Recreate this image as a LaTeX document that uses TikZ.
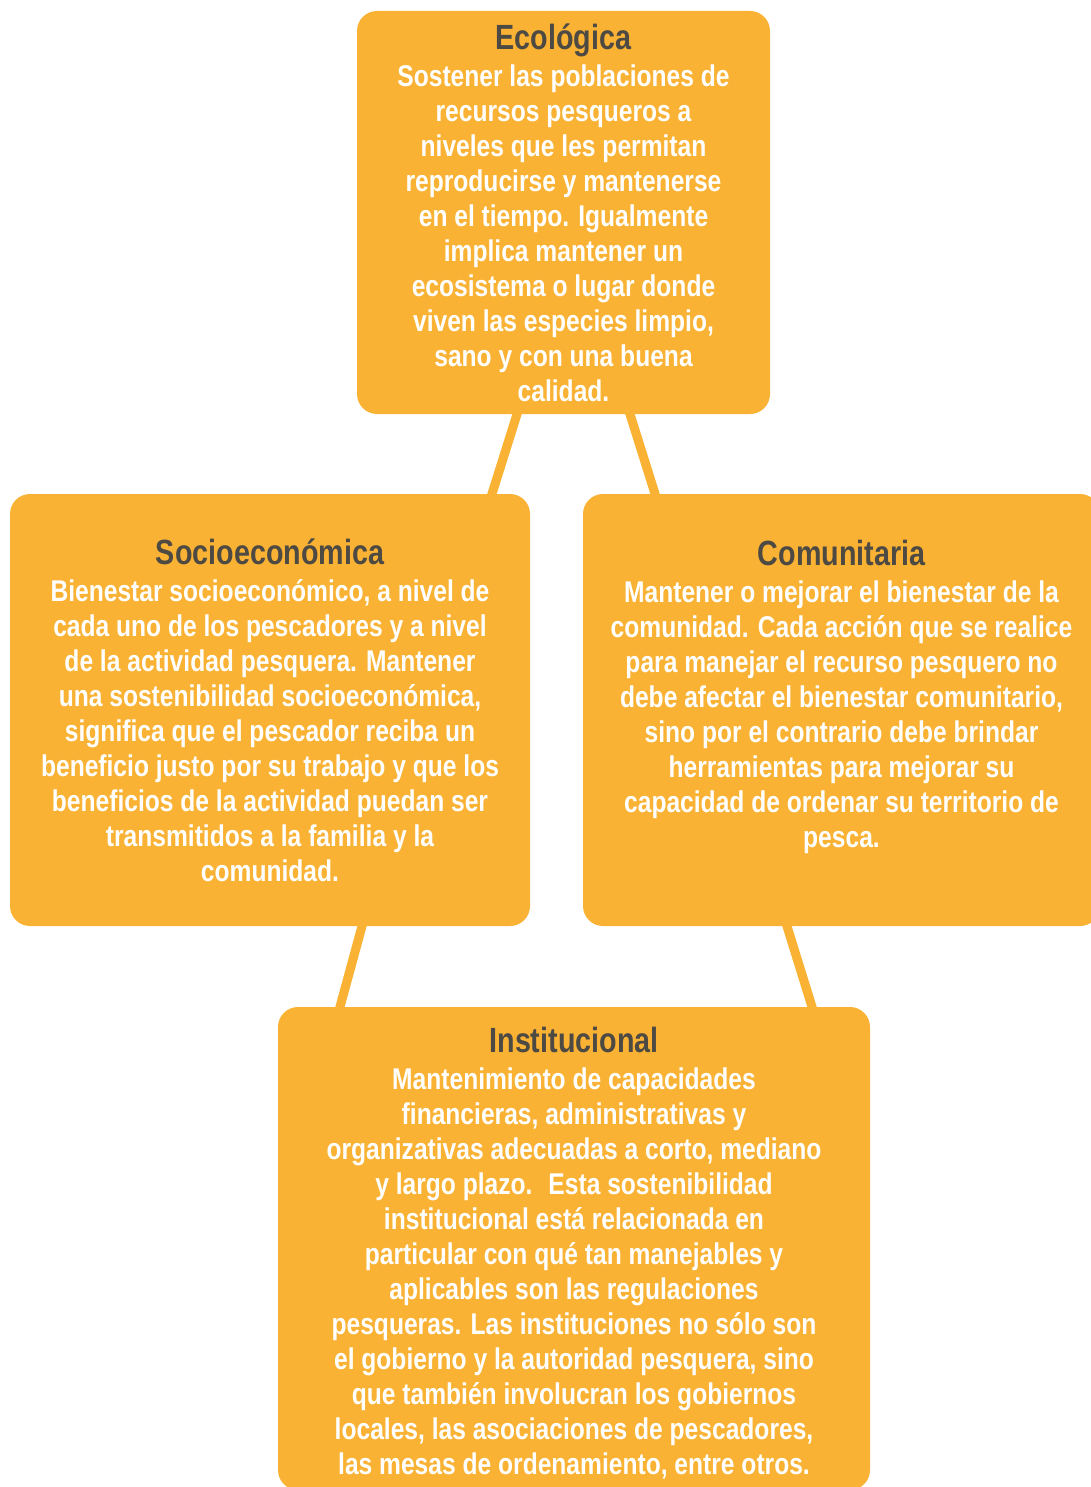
\documentclass[tikz,border=0pt]{standalone}
\usepackage{fontspec}
\setmainfont{Liberation Sans}[FakeStretch=0.82]
\usetikzlibrary{positioning,backgrounds}
\definecolor{cardorange}{RGB}{249,178,51}
\definecolor{titlegray}{RGB}{77,74,68}

\newcommand{\cardtitle}[1]{{\fontsize{35}{35}\selectfont\color{titlegray}#1}\\[2pt]}

\begin{document}
\begin{tikzpicture}[x=1pt,y=1pt,
  card/.style={rectangle,rounded corners=20pt,fill=cardorange,inner sep=0pt},
  cardtext/.style={align=center,text=white,inner sep=0pt,font=\bfseries\fontsize{30}{35}\selectfont},
  link/.style={draw=cardorange,line width=9pt,shorten <=-6pt,shorten >=-6pt}]
\useasboundingbox (0,0) rectangle (1090,-1487);
% the four dimensions
\node[card,minimum width=413pt,minimum height=403pt] (eco) at (563.5,-212.5) {};
\node[card,minimum width=520pt,minimum height=432pt] (soc) at (270,-710) {};
\node[card,minimum width=517pt,minimum height=432pt] (com) at (841.5,-710) {};
\node[card,minimum width=592pt,minimum height=483pt] (inst) at (574,-1248.5) {};
\node[cardtext,below=13pt of eco.north] (ecotext) {\cardtitle{Ecológica}
Sostener las poblaciones de\\
recursos pesqueros a\\
niveles que les permitan\\
reproducirse y mantenerse\\
en el tiempo. Igualmente\\
implica mantener un\\
ecosistema o lugar donde\\
viven las especies limpio,\\
sano y con una buena\\
calidad.};
\node[cardtext,below=45pt of soc.north] (soctext) {\cardtitle{Socioeconómica}
Bienestar socioeconómico, a nivel de\\
cada uno de los pescadores y a nivel\\
de la actividad pesquera. Mantener\\
una sostenibilidad socioeconómica,\\
significa que el pescador reciba un\\
beneficio justo por su trabajo y que los\\
beneficios de la actividad puedan ser\\
transmitidos a la familia y la\\
comunidad.};
\node[cardtext,below=46pt of com.north] (comtext) {\cardtitle{Comunitaria}
Mantener o mejorar el bienestar de la\\
comunidad. Cada acción que se realice\\
para manejar el recurso pesquero no\\
debe afectar el bienestar comunitario,\\
sino por el contrario debe brindar\\
herramientas para mejorar su\\
capacidad de ordenar su territorio de\\
pesca.};
\node[cardtext,below=20pt of inst.north] (insttext) {\cardtitle{Institucional}
Mantenimiento de capacidades\\
financieras, administrativas y\\
organizativas adecuadas a corto, mediano\\
y largo plazo.~ Esta sostenibilidad\\
institucional está relacionada en\\
particular con qué tan manejables y\\
aplicables son las regulaciones\\
pesqueras. Las instituciones no sólo son\\
el gobierno y la autoridad pesquera, sino\\
que también involucran los gobiernos\\
locales, las asociaciones de pescadores,\\
las mesas de ordenamiento, entre otros.};
% links behind the cards
\begin{scope}[on background layer]
\draw[link] ([xshift=-46.5pt]eco.south) -- ([xshift=222pt]soc.north);
\draw[link] ([xshift=66.5pt]eco.south) -- ([xshift=-186.5pt]com.north);
\draw[link] ([xshift=92pt]soc.south) -- ([xshift=-234pt]inst.north);
\draw[link] ([xshift=-54.5pt]com.south) -- ([xshift=238pt]inst.north);
\end{scope}
\end{tikzpicture}
\end{document}
